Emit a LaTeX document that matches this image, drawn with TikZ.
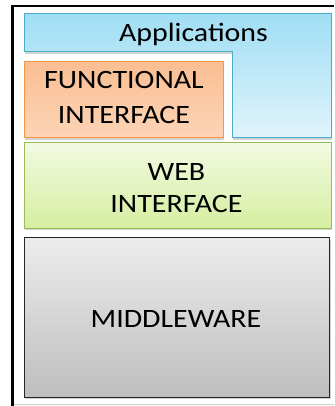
\documentclass[tikz,border=0pt]{standalone}
\usepackage{fontspec}
\setmainfont{Carlito}[FakeStretch=1.13]
\usetikzlibrary{shadows}
\definecolor{bluebd}{RGB}{75,172,198}
\definecolor{bluetop}{RGB}{160,222,244}
\definecolor{bluebot}{RGB}{224,244,252}
\definecolor{orgbd}{RGB}{247,150,70}
\definecolor{orgtop}{RGB}{250,190,146}
\definecolor{orgbot}{RGB}{252,212,182}
\definecolor{grnbd}{RGB}{155,187,89}
\definecolor{grntop}{RGB}{242,250,226}
\definecolor{grnbot}{RGB}{214,238,160}
\definecolor{gratop}{RGB}{236,236,236}
\definecolor{grabot}{RGB}{190,190,190}
\tikzset{
  layer/.style={line width=1pt, drop shadow={shadow xshift=1pt, shadow yshift=-2pt, opacity=0.35}},
  lbl/.style={inner sep=0pt, align=center, text=black},
  bigfont/.style={font=\fontsize{26.5}{35}\selectfont},
}
\begin{document}
\begin{tikzpicture}[x=1pt,y=-1pt]
\useasboundingbox (0,0) rectangle (334,406);
\fill[white] (0,0) rectangle (334,406);
% outer frame
\draw[gray!40, line width=1pt] (12.5,404.5) -- (334,404.5);
\draw[black, line width=2.6pt] (12.5,406) -- (12.5,6) -- (334,6);
% Applications
\path[layer, draw=bluebd, top color=bluetop, bottom color=bluebot]
  (24,14) -- (331,14) -- (331,138) -- (232,138) -- (232,52) -- (24,52) -- cycle;
\node[lbl, bigfont, anchor=base] (app) at (193.5,42) {Applications};
% Functional interface
\path[layer, draw=orgbd, top color=orgtop, bottom color=orgbot] (24,62) rectangle (223,138);
\node[lbl, font=\fontsize{26.5}{35.5}\selectfont, anchor=north] (func) at (124,71) {FUNCTIONAL\\INTERFACE};
% Web interface
\path[layer, draw=grnbd, top color=grntop, bottom color=grnbot] (24,143) rectangle (331,228);
\node[lbl, font=\fontsize{26.5}{32}\selectfont, anchor=north] (web) at (176.5,163.3) {WEB\\INTERFACE};
% Middleware
\path[layer, draw=black!85, top color=gratop, bottom color=grabot] (24,237.5) rectangle (329.5,397);
\node[lbl, bigfont, anchor=base] (mid) at (176,327) {MIDDLEWARE};
\end{tikzpicture}
\end{document}
